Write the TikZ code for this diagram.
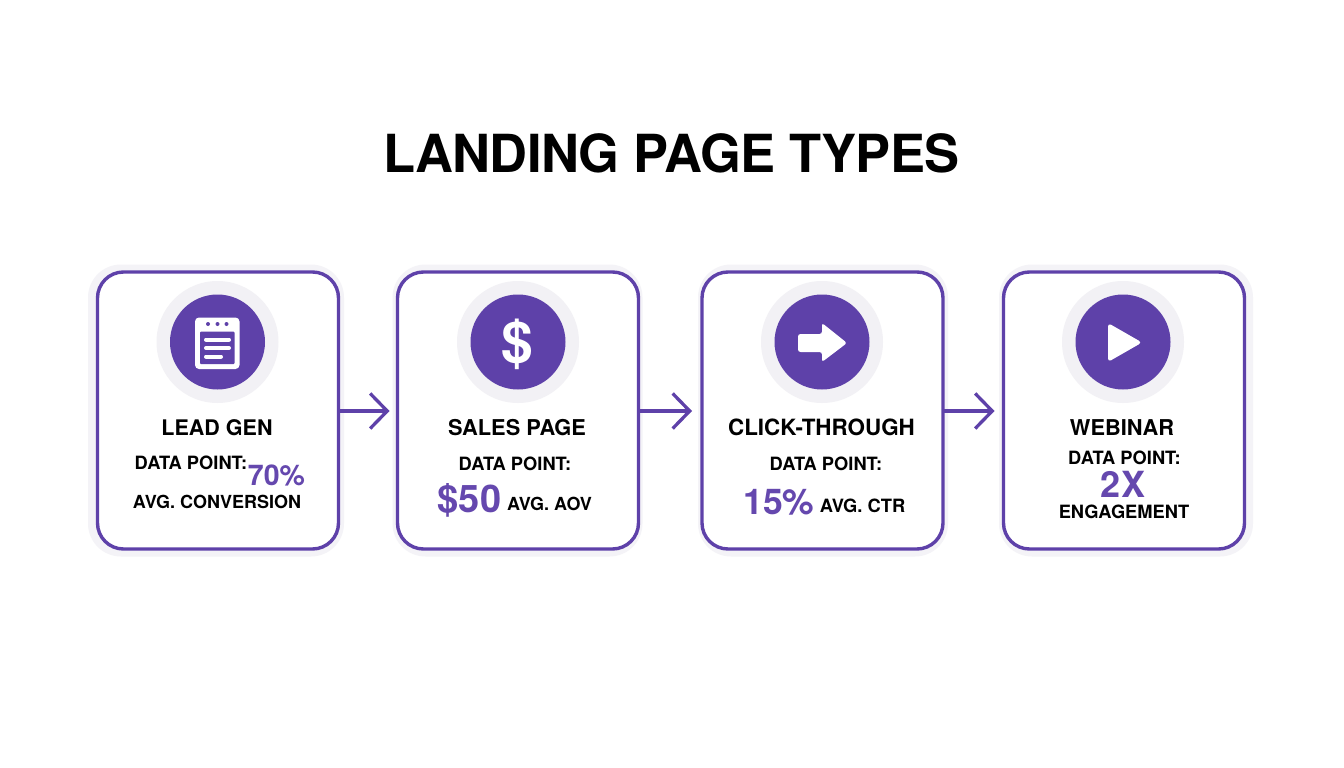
\documentclass[tikz,border=0pt]{standalone}
\usepackage{fontspec}
\setmainfont{TeX Gyre Heros}
\usetikzlibrary{arrows.meta}
\definecolor{pur}{HTML}{5E41A9}
\definecolor{purtxt}{HTML}{6548AE}
\definecolor{halo}{HTML}{F2F1F5}
\definecolor{cardglow}{HTML}{F4F3F7}
\newcommand{\fsz}[1]{\fontsize{#1}{#1}\selectfont\bfseries}
\tikzset{
  card/.style={draw=pur,line width=3.4pt,fill=white,rounded corners=26pt,minimum width=241pt,minimum height=277pt,inner sep=0pt,outer sep=0pt},
  cardhalo/.style={fill=cardglow,rounded corners=33pt,minimum height=292pt,inner sep=0pt,outer sep=0pt},
  ring/.style={circle,fill=halo,minimum size=122pt,inner sep=0pt,outer sep=0pt},
  disc/.style={circle,fill=pur,minimum size=95pt,inner sep=0pt,outer sep=0pt},
  txt/.style={inner sep=0pt,outer sep=0pt,anchor=base,text=#1},
  txt/.default=black,
  link/.style={draw=pur,line width=3.3pt,-{Straight Barb[length=17pt,width=35pt,line width=3.3pt]}},
  whiteline/.style={draw=white,line width=4pt,line cap=round}
}
\begin{document}
\begin{tikzpicture}[x=1pt,y=-1pt]
\useasboundingbox (0,0) rectangle (1344,768);
\fill[white] (0,0) rectangle (1344,768);
\node[txt] (title) at (671.5,172.5) {\fsz{52.5}\addfontfeature{LetterSpace=-1.2}LANDING PAGE TYPES};
% halos
\node[cardhalo,minimum width=256pt] (h1) at (216,410.5) {};
\node[cardhalo,minimum width=250pt] (h2) at (517.5,410.5) {};
\node[cardhalo,minimum width=250pt] (h3) at (823,410.5) {};
\node[cardhalo,minimum width=254pt] (h4) at (1126,410.5) {};
% cards
\node[card] (c1) at (218,410.5) {};
\node[card] (c2) at (518,410.5) {};
\node[card] (c3) at (822.5,410.5) {};
\node[card] (c4) at (1124,410.5) {};
% connectors
\coordinate (t1) at (389.5,411);
\coordinate (t2) at (692,411);
\coordinate (t3) at (994.5,411);
\draw[link] (c1.east |- t1) -- (t1);
\draw[link] (c2.east |- t2) -- (t2);
\draw[link] (c3.east |- t3) -- (t3);
% icon discs
\node[ring] (r1) at (217.5,342) {};
\node[ring] (r2) at (518,342) {};
\node[ring] (r3) at (822,342) {};
\node[ring] (r4) at (1123,342) {};
\node[disc] (d1) at (217.5,342) {};
\node[disc] (d2) at (518,342) {};
\node[disc] (d3) at (822,342) {};
\node[disc] (d4) at (1123,342) {};
% document icon
\fill[white,rounded corners=4pt] (195,317.5) rectangle (239.5,369);
\fill[pur,rounded corners=1pt] (200,331.5) rectangle (234.5,364);
\fill[pur] (208,324) circle (2) (217.5,324) circle (2) (226.5,324) circle (2);
\draw[whiteline] (206,339.5) -- (229,339.5);
\draw[whiteline] (206,348) -- (229,348);
\draw[whiteline] (206,356.5) -- (221,356.5);
% dollar icon
\node[inner sep=0pt,text=white,anchor=base] (dollar) at (517.5,362.5) {\fsz{57}\$};
% arrow icon
\fill[white,rounded corners=2.5pt] (798,334) -- (822,334) -- (822,323) -- (847,343) -- (822,362) -- (822,352) -- (798,352) -- cycle;
% play icon
\fill[white,rounded corners=3.5pt] (1108,323) -- (1142,342.5) -- (1108,362) -- cycle;
% card 1
\node[txt] (a1) at (217,435) {\fsz{21.5}LEAD GEN};
\node[txt] (a2) at (191,469) {\fsz{18.3}DATA POINT:};
\node[txt=purtxt] (a3) at (276.5,485) {\fsz{28.5}70\%};
\node[txt] (a4) at (217,508) {\fsz{18}AVG. CONVERSION};
% card 2
\node[txt] (b1) at (517,435) {\fsz{21.8}SALES PAGE};
\node[txt] (b2) at (515,470) {\fsz{18.3}DATA POINT:};
\node[txt=purtxt] (b3) at (469.5,512) {\fsz{38}\$50};
\node[txt] (b4) at (549.5,510) {\fsz{18}AVG. AOV};
% card 3
\node[txt] (e1) at (821.5,435) {\fsz{22.4}CLICK-THROUGH};
\node[txt] (e2) at (826,470) {\fsz{18.3}DATA POINT:};
\node[txt=purtxt] (e3) at (779,514) {\fsz{35.5}15\%};
\node[txt] (e4) at (862.5,512) {\fsz{18.3}AVG. CTR};
% card 4
\node[txt] (f1) at (1122,435) {\fsz{21.8}WEBINAR};
\node[txt] (f2) at (1124.5,464) {\fsz{18.3}DATA POINT:};
\node[txt=purtxt] (f3) at (1123,497) {\fsz{36}2X};
\node[txt] (f4) at (1124,518) {\fsz{18.3}ENGAGEMENT};
\end{tikzpicture}
\end{document}
